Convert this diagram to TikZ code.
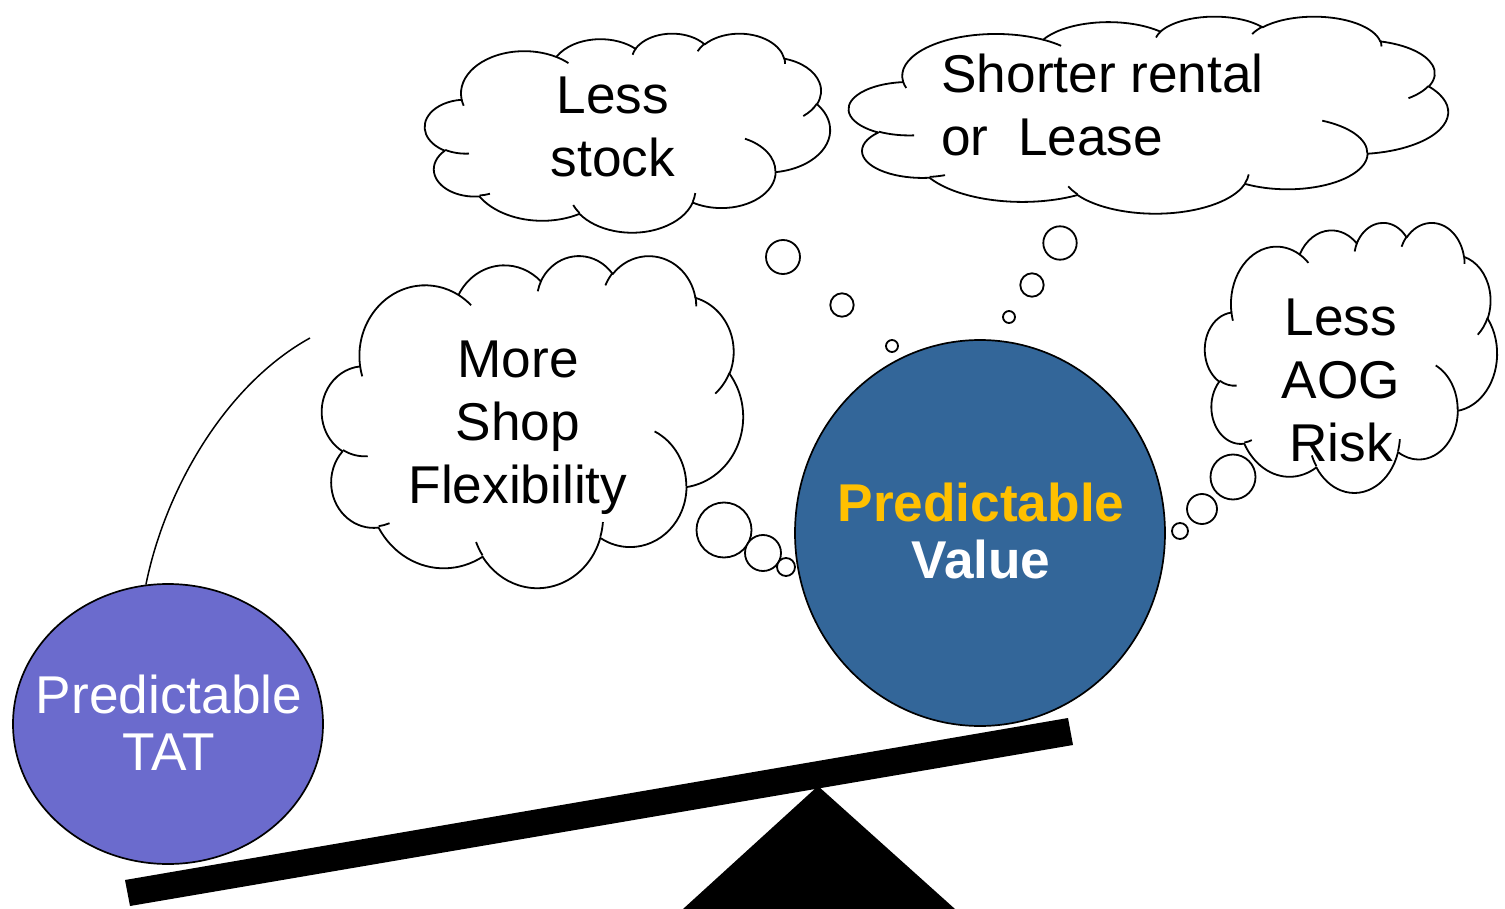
\documentclass[tikz,border=0pt]{standalone}
\usepackage{fontspec}
\setmainfont{Liberation Sans}
\usetikzlibrary{shapes.geometric}

\definecolor{tatfill}{HTML}{6B6BCD}
\definecolor{valuefill}{HTML}{336699}
\definecolor{predyellow}{HTML}{FFC000}

% One bump of a cloud outline. Arguments: x radius, y radius, start angle, sweep.
% The angles give the direction of the end points as seen from the centre,
% so they are turned into ellipse parameters first.
\newcommand\bumparc[4]{%
  arc[x radius=#1, y radius=#2,
      start angle={atan2((#1)*sin(#3),(#2)*cos(#3))},
      delta angle={mod(atan2((#1)*sin((#3)+(#4)),(#2)*cos((#3)+(#4)))-atan2((#1)*sin(#3),(#2)*cos(#3))+720,360)}]}

% Cloud drawn in a 432 x 432 box: left, top, width, height (in px units)
\newcommand\thoughtcloud[4]{%
  \begin{scope}[shift={(#1,#2)}, xscale=#3/432, yscale=#4/432]
    \filldraw[cloudline, fill=white] (39.00,143.70)
      \bumparc{67.53}{91.90}{-190.4875}{123.7805}
      \bumparc{53.33}{72.67}{-144.1024}{89.9452}
      \bumparc{43.65}{59.45}{-145.8079}{99.7230}
      \bumparc{48.57}{65.95}{-130.9861}{117.2417}
      \bumparc{53.33}{72.73}{-78.7089}{109.0269}
      \bumparc{67.75}{92.20}{-46.2673}{130.2690}
      \bumparc{57.85}{78.67}{0.6250}{114.0333}
      \bumparc{67.52}{92.15}{22.4516}{115.1726}
      \bumparc{77.20}{105.43}{66.2426}{75.7110}
      \bumparc{43.60}{59.18}{-274.9421}{146.7356}
      \bumparc{43.45}{59.45}{-246.8285}{152.5320}
      -- cycle;
    \draw[cloudline]
      (46.93,261.77) \bumparc{43.45}{59.45}{86.7420}{26.4295}
      (69.28,348.99) \bumparc{43.60}{59.18}{73.6105}{11.4475}
      (164.78,390.90) \bumparc{67.52}{92.15}{137.6242}{14.0811}
      (288.27,347.51) \bumparc{67.52}{92.15}{6.4533}{15.9984}
      (341.29,229.54) \bumparc{57.85}{78.67}{-70.2924}{70.9174}
      (417.98,153.54) \bumparc{53.33}{72.73}{30.3180}{27.7515}
      (383.24,54.26) \bumparc{48.57}{65.95}{-13.7443}{14.8589}
      (290.78,39.52) \bumparc{48.57}{65.95}{-149.1815}{18.1954}
      (221.41,47.20) \bumparc{43.65}{59.45}{-163.4943}{17.6864}
      (140.00,51.92) \bumparc{67.53}{91.90}{-66.7070}{12.3194}
      (41.27,157.89) \bumparc{67.53}{91.90}{157.6544}{11.8582};
  \end{scope}}

\tikzset{
  cloudline/.style={line width=0.9pt, line join=round},
  bubble/.style={draw, line width=0.9pt, fill=white},
  words/.style={font=\fontsize{26.6}{31.5}\selectfont, align=center,
                inner sep=0pt, anchor=base},
  ballwords/.style={words, text=white, font=\fontsize{26.6}{28.5}\selectfont},
  ball/.style={ellipse, draw, line width=0.85pt, inner sep=0pt},
}

\begin{document}
\begin{tikzpicture}[x=0.5pt, y=0.5pt, yscale=-1]
  \fill[white] (0,0) rectangle (1505,909);
  \useasboundingbox (0,0) rectangle (1505,909);

  % thought clouds
  \thoughtcloud{425}{33}{405}{199}
  \thoughtcloud{849}{16}{599}{197}
  \thoughtcloud{322}{255}{421}{332}
  \thoughtcloud{1205}{222}{292}{270}

  % trailing bubbles of the clouds
  \draw[bubble] (783,257) circle[radius=8.5pt];
  \draw[bubble] (842,305) circle[radius=5.85pt];
  \draw[bubble] (892,346) circle[radius=3pt];
  \draw[bubble] (1060,243) circle[radius=8.35pt];
  \draw[bubble] (1032,285) circle[radius=5.85pt];
  \draw[bubble] (1009,317) circle[radius=3pt];
  \draw[bubble] (724,530) circle[radius=13.75pt];
  \draw[bubble] (763,553) circle[radius=9pt];
  \draw[bubble] (786,567) circle[radius=4.5pt];
  \draw[bubble] (1233,477) circle[radius=11.25pt];
  \draw[bubble] (1202,509) circle[radius=7.5pt];
  \draw[bubble] (1180,531) circle[radius=4pt];

  % cloud texts (placed by the baseline of their last line)
  \node[words] (stocktext) at (613,177) {Less\\stock};
  \node[words, align=left, anchor=base west] (rentaltext) at (941,156)
    {Shorter rental\\or\ \ Lease};
  \node[words] (shoptext) at (518,503) {More\\Shop\\Flexibility};
  \node[words] (aogtext) at (1341,461) {Less\\AOG\\Risk};

  % the two weights
  \node[ball, fill=tatfill, minimum width=155pt, minimum height=140pt]
    (tat) at (168,724) {};
  \node[ball, fill=valuefill, minimum width=185pt, minimum height=193pt]
    (value) at (980,533) {};
  \node[ballwords] (tattext) at (169,770) {Predictable\\TAT};
  \node[ballwords, font=\fontsize{26.6}{28.5}\selectfont\bfseries]
    (valuetext) at (981,578) {\textcolor{predyellow}{Predictable}\\Value};

  % line rising from the TAT weight
  \coordinate (arcend) at (310,338);
  \draw[line width=0.75pt] (tat.99) .. controls (165,490) and (225,385) .. (arcend);

  % seesaw: fulcrum and beam
  \fill[black] (818,786) -- (955,909) -- (683,909) -- cycle;
  \fill[black] (125,880) -- (1068,718) -- (1073,745) -- (130,906) -- cycle;
\end{tikzpicture}
\end{document}
